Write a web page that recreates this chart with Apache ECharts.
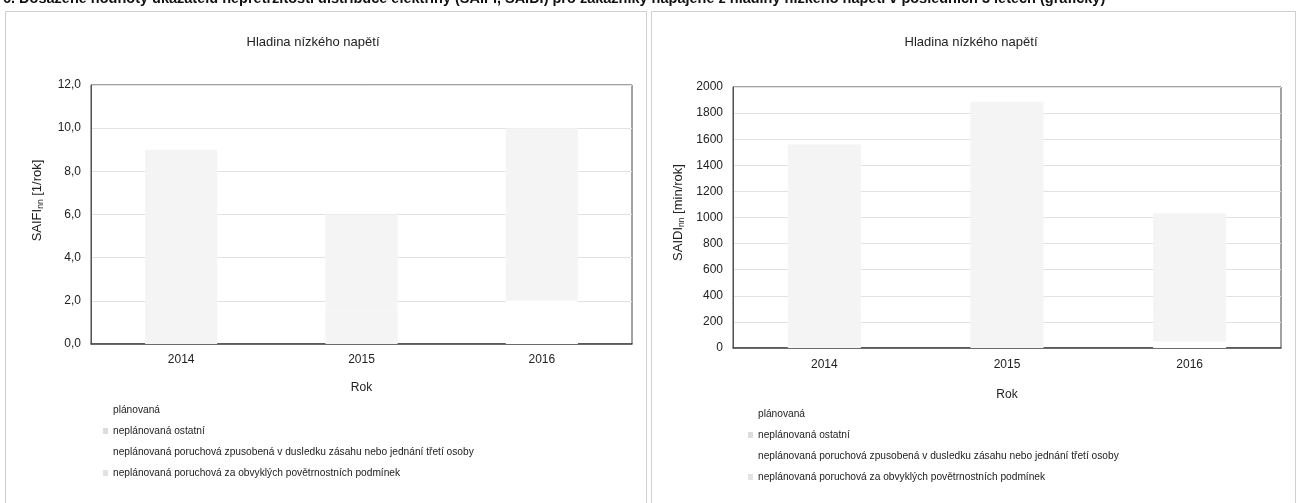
<!DOCTYPE html>
<html>
<head>
<meta charset="utf-8">
<script src="https://cdn.jsdelivr.net/npm/echarts@6/dist/echarts.min.js"></script>
<style>
html,body{margin:0;padding:0;background:#fff;}
#c{width:1299px;height:503px;}
</style>
</head>
<body>
<div id="c"></div>
<script>
// ---- data ----
const years = ['2014', '2015', '2016'];
const seriesNames = [
  'plánovaná',
  'neplánovaná ostatní',
  'neplánovaná poruchová zpusobená v dusledku zásahu nebo jednání třetí osoby',
  'neplánovaná poruchová za obvyklých povětrnostních podmínek'
];
// SAIFI nn [1/rok]
const saifiPlanned = [0.0, 0.0, 2.0];
const saifiOther = [2.0, 1.5, 2.5];
const saifiThird = [0.0, 0.0, 0.0];
const saifiWeather = [7.0, 4.5, 5.5];
// SAIDI nn [min/rok]
const saidiPlanned = [0, 0, 50];
const saidiOther = [300, 350, 200];
const saidiThird = [0, 0, 0];
const saidiWeather = [1260, 1537, 780];
const saifiTicks = [0, 2, 4, 6, 8, 10, 12];
const saidiTicks = [0, 200, 400, 600, 800, 1000, 1200, 1400, 1600, 1800, 2000];

const seriesColors = ['#ffffff', '#f4f4f4', '#ffffff', '#f4f4f4'];
const legendColors = ['#ffffff', '#dcdcdc', '#ffffff', '#e2e2e2'];

const chart = echarts.init(document.getElementById('c'), null, {renderer: 'canvas'});
const FONT = 'Liberation Sans, Arial, sans-serif';

function yAxis(idx, ticks, nameMain, nameUnit, fmt, shift) {
  return {
    gridIndex: idx, type: 'value',
    min: ticks[0], max: ticks[ticks.length - 1], interval: ticks[1] - ticks[0],
    name: '{a|' + nameMain + '}{s|nn}{a| ' + nameUnit + '}',
    nameLocation: 'middle', nameGap: idx === 0 ? 46 : 47, nameRotate: 90,
    nameTextStyle: {
      padding: [0, 0, 0, shift],
      rich: {
        a: {fontFamily: FONT, fontSize: 13, color: '#222'},
        s: {fontFamily: FONT, fontSize: 8.5, color: '#222', verticalAlign: 'bottom', padding: [7, 0, 0, 0]}
      }
    },
    axisLine: {show: true, lineStyle: {color: '#555', width: 1}},
    axisTick: {show: false},
    axisLabel: {fontFamily: FONT, fontSize: 12, color: '#222', margin: 10, formatter: fmt},
    splitLine: {show: true, lineStyle: {color: '#e2e2e2', width: 1}}
  };
}
function xAxis(idx) {
  return {
    gridIndex: idx, type: 'category', data: years,
    name: 'Rok', nameLocation: 'middle', nameGap: idx === 0 ? 38 : 41,
    nameTextStyle: {fontFamily: FONT, fontSize: 12, color: '#222'},
    axisLine: {show: true, lineStyle: {color: '#444', width: 1.5}},
    axisTick: {show: false},
    axisLabel: {fontFamily: FONT, fontSize: 12, color: '#222', margin: idx === 0 ? 10 : 11}
  };
}
function barSeries(idx, datasets) {
  return datasets.map((d, i) => ({
    name: seriesNames[i], type: 'bar', stack: 's' + idx,
    xAxisIndex: idx, yAxisIndex: idx,
    barWidth: '40%', data: d,
    itemStyle: {color: seriesColors[i]},
    emphasis: {disabled: true}
  }));
}
function legend(idx, left, top) {
  return {
    orient: 'vertical', left: left, top: top,
    itemWidth: 5, itemHeight: 6, itemGap: 11, icon: 'rect',
    textStyle: {fontFamily: FONT, fontSize: 10.2, color: '#222'},
    data: seriesNames.map((n, i) => ({name: n, itemStyle: {color: legendColors[i]}})),
    selectedMode: false
  };
}

const option = {
  animation: false,
  backgroundColor: '#fff',
  title: [
    {text: 'Hladina nízkého napětí', left: 308, top: 31, textAlign: 'center',
     textStyle: {fontFamily: FONT, fontSize: 13, fontWeight: 'normal', color: '#222'}},
    {text: 'Hladina nízkého napětí', left: 966, top: 31, textAlign: 'center',
     textStyle: {fontFamily: FONT, fontSize: 13, fontWeight: 'normal', color: '#222'}}
  ],
  graphic: [
    {type: 'text', left: 3, top: -9, style: {
      text: '6. Dosažené hodnoty ukazatelů nepřetržitosti distribuce elektřiny (SAIFI, SAIDI) pro zákazníky napájené z hladiny nízkého napětí v posledních 3 letech (grafický)',
      font: 'bold 14.5px Liberation Sans, Arial, sans-serif', fill: '#111'}},
    {type: 'rect', shape: {x: 5.5, y: 11.5, width: 641, height: 500}, style: {fill: 'none', stroke: '#cfcfcf', lineWidth: 1}, silent: true},
    {type: 'rect', shape: {x: 651.5, y: 11.5, width: 644, height: 500}, style: {fill: 'none', stroke: '#cfcfcf', lineWidth: 1}, silent: true}
  ],
  grid: [
    {left: 91, right: 1299 - 632, top: 85, bottom: 503 - 344, show: true, borderColor: '#444', borderWidth: 1, backgroundColor: 'transparent'},
    {left: 733, right: 1299 - 1281, top: 87, bottom: 503 - 348, show: true, borderColor: '#444', borderWidth: 1, backgroundColor: 'transparent'}
  ],
  xAxis: [xAxis(0), xAxis(1)],
  yAxis: [
    yAxis(0, saifiTicks, 'SAIFI', '[1/rok]', v => v.toFixed(1).replace('.', ','), 28),
    yAxis(1, saidiTicks, 'SAIDI', '[min/rok]', v => String(v), 10)
  ],
  legend: [legend(0, 98, 400), legend(1, 743, 404)],
  series: [].concat(
    barSeries(0, [saifiPlanned, saifiOther, saifiThird, saifiWeather]),
    barSeries(1, [saidiPlanned, saidiOther, saidiThird, saidiWeather])
  )
};
chart.setOption(option);
</script>
</body>
</html>
